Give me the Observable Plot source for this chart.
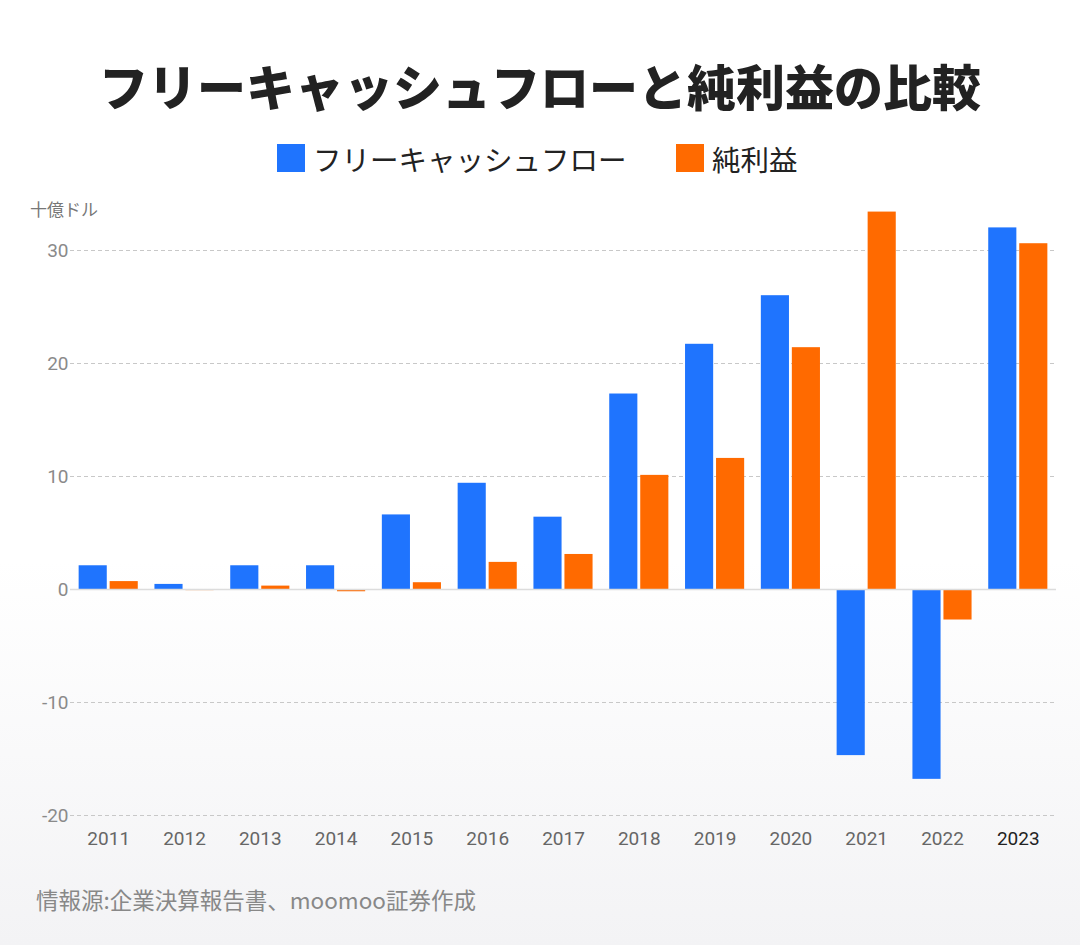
<!DOCTYPE html>
<html>
<head>
<meta charset="utf-8">
<script src="https://cdn.jsdelivr.net/npm/d3@7"></script>
<script src="https://cdn.jsdelivr.net/npm/@observablehq/plot@0.6"></script>
<style>
  html, body { margin: 0; padding: 0; }
  body {
    width: 1080px; height: 945px; overflow: hidden;
    background: linear-gradient(to bottom, #ffffff 0px, #ffffff 560px, #f3f3f5 945px);
    font-family: "Noto Sans CJK JP", "Noto Sans", sans-serif;
  }
  #wrap { position: relative; width: 1080px; height: 945px; }
  #title {
    position: absolute; top: 50px; left: 0; width: 1080px; text-align: center;
    font-size: 49px; font-weight: 900; color: #222; line-height: 70px;
  }
  #legend {
    position: absolute; top: 138px; left: 0; width: 1080px; height: 40px;
    font-size: 28.5px; color: #222;
  }
  .li { position: absolute; top: 0; display: flex; align-items: center; height: 40px; }
  .sw { width: 28px; height: 28px; margin-right: 8px; }
  #unit { position: absolute; top: 196px; left: 30px; font-size: 17px; color: #777; }
  #chart { position: absolute; top: 190px; left: 0; }
  #source { position: absolute; top: 883px; left: 36px; font-size: 22.5px; color: #888; }
</style>
</head>
<body>
<div id="wrap">
  <div id="title">フリーキャッシュフローと純利益の比較</div>
  <div id="legend"></div>
  <div id="unit">十億ドル</div>
  <div id="chart"></div>
  <div id="source">情報源:企業決算報告書、moomoo証券作成</div>
</div>
<script>
const years = ["2011","2012","2013","2014","2015","2016","2017","2018","2019","2020","2021","2022","2023"];
const freeCashFlow = [2.1, 0.45, 2.1, 2.1, 6.6, 9.4, 6.4, 17.3, 21.7, 26.0, -14.7, -16.8, 32.0];
const netIncome = [0.7, -0.1, 0.3, -0.2, 0.6, 2.4, 3.1, 10.1, 11.6, 21.4, 33.4, -2.7, 30.6];
const seriesNames = ["フリーキャッシュフロー", "純利益"];
const seriesColors = ["#1f74fe", "#ff6a00"];
const yTicks = [-20, -10, 0, 10, 20, 30];

const fcfData = years.map((y, i) => ({year: y, value: freeCashFlow[i]}));
const niData = years.map((y, i) => ({year: y, value: netIncome[i]}));

// legend
const legend = document.getElementById("legend");
const legendX = [277, 676];
seriesNames.forEach((name, i) => {
  const d = document.createElement("div");
  d.className = "li";
  d.style.left = legendX[i] + "px";
  d.innerHTML = `<div class="sw" style="background:${seriesColors[i]}"></div><span>${name}</span>`;
  legend.appendChild(d);
});

const plot = Plot.plot({
  width: 1080,
  height: 670,
  marginTop: 60,
  marginBottom: 45,
  marginLeft: 70,
  marginRight: 24,
  style: {fontFamily: "Roboto, 'Noto Sans CJK JP', sans-serif", background: "transparent", overflow: "visible"},
  x: {type: "band", domain: years, paddingInner: 0.22, paddingOuter: 0.114, round: false, axis: null},
  y: {domain: [-20, 30], nice: false, axis: null},
  marks: [
    Plot.gridY({ticks: yTicks.filter(t => t !== 0), stroke: "#c8c8c8", strokeOpacity: 1, strokeDasharray: "4,3"}),
    Plot.barY(fcfData, {x: "year", y: "value", fill: seriesColors[0], insetRight: 31}),
    Plot.barY(niData, {x: "year", y: "value", fill: seriesColors[1], insetLeft: 31}),
    Plot.ruleY([0], {stroke: "#dcdcdc", strokeWidth: 1.5}),
    Plot.axisY({ticks: yTicks, tickSize: 0, tickPadding: 2, fontSize: 19, fill: "#8a8a8a", label: null, tickFormat: d => String(d)}),
    Plot.axisX({tickSize: 0, tickPadding: 16, fontSize: 19, label: null,
      fill: d => d === "2023" ? "#222" : "#666"})
  ]
});
document.getElementById("chart").appendChild(plot);
</script>
</body>
</html>
